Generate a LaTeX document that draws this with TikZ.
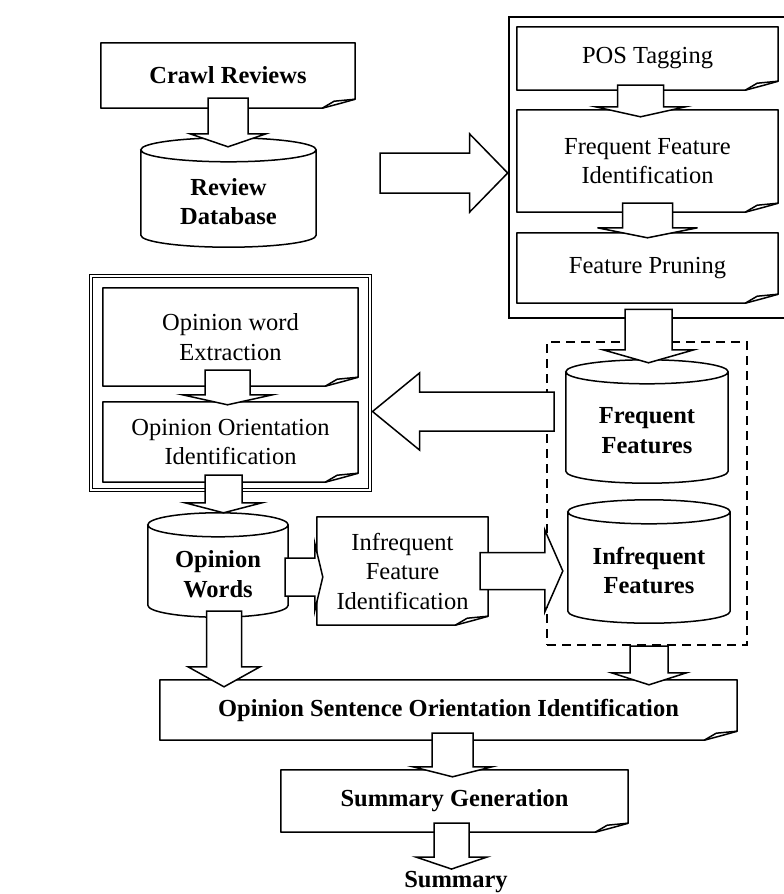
\documentclass[tikz,border=0pt]{standalone}
\usepackage{fontspec}
\setmainfont{Liberation Serif}
\usepackage{tikz}
\usetikzlibrary{calc}

\newcommand{\docshape}[1]{%
  \draw[docline] (#1.south west) -- (#1.north west) -- (#1.north east) -- ([yshift=9pt]#1.south east)
    .. controls ([xshift=-14pt,yshift=5pt]#1.south east) .. ([xshift=-33pt]#1.south east) -- cycle;
  \draw[docline] ([xshift=-33pt]#1.south east) -- ([xshift=-21pt,yshift=7pt]#1.south east) -- ([yshift=9pt]#1.south east);}
\newcommand{\dbshape}[1]{%
  \draw[dbline] let \p1=(#1.west), \p2=(#1.east), \n1={(\x2-\x1)/2} in
    ([yshift=12pt]#1.north west) -- ([yshift=6pt]#1.south west)
    arc[start angle=180, end angle=360, x radius=\n1, y radius=12pt]
    -- ([yshift=12pt]#1.north east)
    arc[start angle=0, end angle=360, x radius=\n1, y radius=12pt];}
\newcommand{\varrow}[5]{%
  \path (#1) coordinate (vs) (#2) coordinate (vt);
  \draw[blockarr] ($(vs)+(-#3,0)$) -- ($(vs|-vt)+(-#3,-#5)$) -- ($(vs|-vt)+(-#4,-#5)$)
    -- (vs|-vt) -- ($(vs|-vt)+(#4,-#5)$) -- ($(vs|-vt)+(#3,-#5)$) -- ($(vs)+(#3,0)$) -- cycle;}
\newcommand{\harrow}[5]{%
  \path (#1) coordinate (hs) (#2) coordinate (ht);
  \draw[blockarr] ($(hs)+(0,-#3)$) -- ($(ht|-hs)+({-(#5)},-#3)$) -- ($(ht|-hs)+({-(#5)},-#4)$)
    -- (ht|-hs) -- ($(ht|-hs)+({-(#5)},#4)$) -- ($(ht|-hs)+({-(#5)},#3)$) -- ($(hs)+(0,#3)$) -- cycle;}

\begin{document}
\begin{tikzpicture}[x=1pt, y=-1pt,
  every node/.style={font=\fontsize{24.5}{29.5}\selectfont, align=center, inner sep=0pt},
  boldtxt/.style={font=\fontsize{24.5}{29.5}\selectfont\bfseries},
  grpframe/.style={draw, line width=2.6pt},
  opframe/.style={draw, double, double distance=1.6pt, line width=1pt},
  dashframe/.style={draw, line width=2pt, dash pattern=on 9pt off 6pt},
  docline/.style={line width=1.5pt, line join=round},
  dbline/.style={line width=1.5pt},
  blockarr/.style={draw, fill=white, line width=1.5pt, line join=miter}]
  \useasboundingbox (0,0) rectangle (784,894);

  \node[grpframe, minimum width=291, minimum height=301] (mining) at (654.5,167.5) {};
  \node[opframe, minimum width=279, minimum height=214] (opgroup) at (230.5,383) {};
  \node[dashframe, minimum width=200, minimum height=303] (features) at (647,493.5) {};

  \node[boldtxt, minimum width=254, minimum height=65] (crawl) at (228,75.5) {Crawl Reviews};
  \node[minimum width=261, minimum height=63] (pos) at (647.5,58.5) {POS Tagging};
  \node[minimum width=261, minimum height=102] (ffi) at (647.5,161) {Frequent Feature\\Identification};
  \node[minimum width=261, minimum height=70] (prune) at (647.5,268) {Feature Pruning};
  \node[minimum width=255, minimum height=98] (owe) at (230.5,337) {Opinion word\\Extraction};
  \node[minimum width=255, minimum height=80] (ooi) at (230.5,442) {Opinion Orientation\\Identification};
  \node[minimum width=171, minimum height=108] (ifi) at (402.5,571) {Infrequent\\Feature\\Identification};
  \node[boldtxt, minimum width=577, minimum height=60] (osoi) at (448.5,710) {Opinion Sentence Orientation Identification};
  \node[boldtxt, minimum width=347, minimum height=62] (sumgen) at (454.5,801) {Summary Generation};
  \node[boldtxt] (summary) at (456,882) {Summary};

  \node[boldtxt, minimum width=175, minimum height=79] (revdb) at (228.5,201.5) {Review\\Database};
  \node[boldtxt, minimum width=162, minimum height=93] (freq) at (647,430.5) {Frequent\\Features};
  \node[boldtxt, minimum width=162, minimum height=93] (infreq) at (649,570.5) {Infrequent\\Features};
  \node[boldtxt, minimum width=140, minimum height=74] (opwords) at (218,574) {Opinion\\Words};

  \foreach \d in {crawl, pos, ffi, prune, owe, ooi, ifi, osoi, sumgen} {\docshape{\d}}
  \foreach \d in {revdb, freq, infreq, opwords} {\dbshape{\d}}

  \varrow{[yshift=10pt]crawl.south}{[yshift=15pt]revdb.north}{20}{38}{13}
  \varrow{[xshift=-7pt,yshift=5pt]pos.south}{[yshift=-7pt]ffi.north}{23}{45}{10}
  \varrow{[yshift=9pt]ffi.south}{[yshift=-5pt]prune.north}{25}{50}{10}
  \varrow{[xshift=-6pt,yshift=10pt]mining.south}{[yshift=21pt]freq.north}{23.5}{45.5}{13}
  \harrow{[xshift=64pt,yshift=28.5pt]revdb.east}{[yshift=-5.5pt]mining.west}{20}{39}{38}
  \harrow{[xshift=8pt,yshift=82pt]features.west}{[xshift=2pt,yshift=-29pt]opgroup.east}{19.5}{38.5}{-47}
  \varrow{[xshift=-3pt,yshift=16pt]owe.south}{[yshift=-3pt]ooi.north}{22.5}{45}{10}
  \varrow{[xshift=-7pt,yshift=7pt]ooi.south}{[yshift=24pt]opwords.north}{18.5}{38.5}{10}
  \harrow{[xshift=-3pt,yshift=-3pt]opwords.east}{[xshift=6pt]ifi.west}{19}{33.5}{8}
  \harrow{[xshift=-8pt]ifi.east}{[xshift=-5pt]infreq.west}{18.5}{41}{18}
  \varrow{[xshift=6pt]opwords.south}{[yshift=-7pt]osoi.north}{17.5}{36}{20}
  \varrow{[xshift=2pt]features.south}{[yshift=-5pt]osoi.north}{19}{37.5}{12}
  \varrow{[xshift=4pt,yshift=7pt]osoi.south}{[yshift=-7pt]sumgen.north}{20.5}{39.5}{10}
  \varrow{[xshift=-3pt,yshift=9pt]sumgen.south}{[yshift=2pt]summary.north}{17.5}{35.5}{12}
\end{tikzpicture}
\end{document}
